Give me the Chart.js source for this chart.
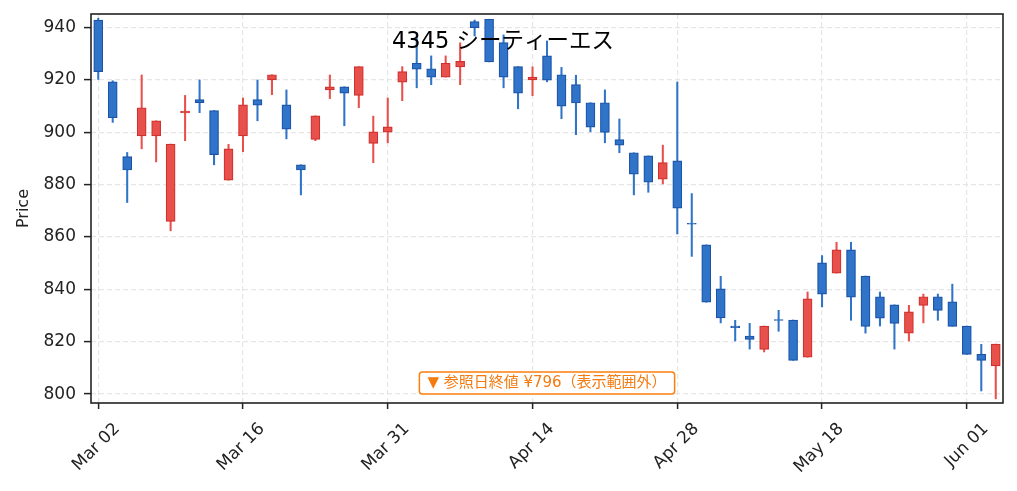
<!DOCTYPE html>
<html>
<head>
<meta charset="utf-8">
<script src="https://cdn.jsdelivr.net/npm/chart.js@4"></script>
<style>
  html, body { margin: 0; padding: 0; background: #fff; }
  #wrap { width: 1017px; height: 491px; }
</style>
</head>
<body>
<div id="wrap"><canvas id="price_chart"></canvas></div>
<script>
const dates = [
    'Mar 02', 'Mar 03', 'Mar 04', 'Mar 05', 'Mar 06', 'Mar 09', 'Mar 10', 'Mar 11', 'Mar 12', 'Mar 13',
    'Mar 16', 'Mar 17', 'Mar 18', 'Mar 19', 'Mar 23', 'Mar 24', 'Mar 25', 'Mar 26', 'Mar 27', 'Mar 30',
    'Mar 31', 'Apr 01', 'Apr 02', 'Apr 03', 'Apr 06', 'Apr 07', 'Apr 08', 'Apr 09', 'Apr 10', 'Apr 13',
    'Apr 14', 'Apr 15', 'Apr 16', 'Apr 17', 'Apr 20', 'Apr 21', 'Apr 22', 'Apr 23', 'Apr 24', 'Apr 27',
    'Apr 28', 'Apr 30', 'May 01', 'May 07', 'May 08', 'May 11', 'May 12', 'May 13', 'May 14', 'May 15',
    'May 18', 'May 19', 'May 20', 'May 21', 'May 22', 'May 25', 'May 26', 'May 27', 'May 28', 'May 29',
    'Jun 01', 'Jun 02', 'Jun 03'
];
const tickLabels = ['Mar 02', 'Mar 16', 'Mar 31', 'Apr 14', 'Apr 28', 'May 18', 'Jun 01'];

const open = [
    942.9, 919.3, 890.7, 898.6, 898.6, 866.0, 907.4, 912.5, 908.3, 881.7,
    898.6, 912.5, 920.0, 910.5, 887.6, 897.3, 916.2, 917.4, 914.1, 895.8,
    900.1, 919.2, 926.4, 924.3, 921.1, 925.0, 942.3, 943.2, 934.3, 925.1,
    920.0, 929.2, 922.0, 918.2, 911.3, 911.3, 897.2, 892.2, 891.0, 882.1,
    889.1, 865.2, 857.0, 840.2, 826.0, 822.2, 817.1, 828.5, 828.3, 814.1,
    850.1, 846.2, 855.1, 845.1, 837.2, 834.1, 823.3, 833.9, 837.2, 835.2,
    826.0, 815.2, 810.8
];
const high = [
    943.6, 919.7, 892.3, 921.9, 904.4, 895.5, 914.1, 920.0, 908.3, 895.4,
    913.1, 920.0, 922.0, 916.2, 887.6, 906.3, 921.9, 917.4, 925.1, 906.2,
    913.1, 925.1, 938.0, 929.2, 929.2, 934.2, 942.9, 943.2, 937.2, 925.1,
    925.0, 934.9, 924.8, 921.8, 911.3, 916.2, 905.1, 892.2, 891.0, 895.1,
    919.2, 876.6, 857.0, 845.0, 828.2, 827.0, 826.0, 832.0, 828.3, 839.0,
    852.9, 858.0, 858.0, 845.1, 839.0, 834.1, 833.9, 838.2, 838.2, 842.0,
    826.0, 819.0, 819.1
];
const low = [
    920.2, 903.8, 873.2, 893.7, 888.7, 862.4, 896.8, 907.5, 887.6, 881.7,
    892.6, 904.4, 914.4, 897.5, 876.1, 896.8, 912.9, 902.5, 909.4, 888.4,
    896.0, 912.1, 917.0, 918.2, 921.1, 918.2, 936.8, 926.9, 917.0, 909.0,
    914.0, 919.3, 905.2, 899.1, 900.2, 896.0, 892.2, 876.1, 877.1, 880.3,
    861.2, 852.6, 835.1, 827.2, 820.3, 817.2, 816.1, 824.0, 812.9, 814.1,
    833.3, 846.2, 828.2, 823.3, 826.0, 817.2, 820.3, 827.2, 828.2, 825.9,
    815.2, 801.2, 798.2
];
const close = [
    923.2, 905.6, 885.6, 909.4, 904.4, 895.5, 908.1, 911.3, 891.5, 893.7,
    910.5, 910.4, 922.0, 901.2, 885.6, 906.3, 917.4, 915.0, 925.1, 900.2,
    902.1, 923.2, 924.1, 921.1, 926.4, 927.1, 940.0, 926.9, 921.1, 915.0,
    921.1, 919.9, 910.0, 911.2, 902.0, 900.0, 895.1, 884.0, 881.0, 888.4,
    871.0, 864.9, 835.1, 829.1, 825.4, 820.9, 826.0, 828.1, 812.9, 836.4,
    838.2, 855.1, 837.0, 825.9, 829.0, 827.0, 831.4, 837.2, 832.0, 825.9,
    815.2, 812.9, 819.1
];

const chartTitle = '4345 シーティーエス';
const refNote = '▼ 参照日終値 ¥796（表示範囲外）';

const upFill = '#e8504c', upEdge = '#d0312f';
const downFill = '#2f74c8', downEdge = '#1c53a6';

const isUp = open.map((o, i) => close[i] >= o);
const bodies = open.map((o, i) => [o, close[i]]);
const wicks = low.map((l, i) => [l, high[i]]);

const font = '"DejaVu Sans", "Noto Sans CJK JP", sans-serif';

const overlay = {
    id: 'overlay',
    afterDatasetsDraw(chart) {
        const {ctx, chartArea: a} = chart;
        ctx.save();
        ctx.strokeStyle = '#222';
        ctx.lineWidth = 1.6;
        ctx.strokeRect(a.left, a.top, a.right - a.left, a.bottom - a.top);

        ctx.fillStyle = '#000';
        ctx.font = '22.5px ' + font;
        ctx.textAlign = 'center';
        ctx.textBaseline = 'alphabetic';
        ctx.fillText(chartTitle, 503, 48);

        ctx.font = '15px ' + font;
        const w = ctx.measureText(refNote).width + 16;
        const cx = (a.left + a.right) / 2;
        ctx.beginPath();
        ctx.roundRect(cx - w / 2, 372, w, 22, 3);
        ctx.fillStyle = '#fff';
        ctx.fill();
        ctx.strokeStyle = '#ff7f0e';
        ctx.lineWidth = 1.5;
        ctx.stroke();
        ctx.fillStyle = '#f57a10';
        ctx.textBaseline = 'middle';
        ctx.fillText(refNote, cx, 383.5);
        ctx.restore();
    }
};

new Chart(document.getElementById('price_chart'), {
    type: 'bar',
    data: {
        labels: dates,
        datasets: [{
            label: 'body',
            data: bodies,
            order: 1,
            grouped: false,
            barThickness: 9,
            borderWidth: 1.2,
            borderSkipped: false,
            backgroundColor: isUp.map(u => u ? upFill : downFill),
            borderColor: isUp.map(u => u ? upEdge : downEdge)
        }, {
            label: 'wick',
            data: wicks,
            order: 2,
            grouped: false,
            barThickness: 1.4,
            borderWidth: 0,
            backgroundColor: isUp.map(u => u ? upFill : downFill)
        }]
    },
    options: {
        responsive: true,
        maintainAspectRatio: false,
        animation: false,
        layout: {padding: {left: 0, top: 14, right: 14, bottom: 0}},
        plugins: {
            legend: {display: false},
            tooltip: {enabled: false}
        },
        scales: {
            x: {
                offset: true,
                afterFit: (s) => { s.height = 88; s.paddingLeft = 0; s.paddingRight = 0; },
                grid: {
                    offset: false,
                    color: '#e6e6e6',
                    lineWidth: 1.2,
                    tickLength: 6,
                    tickColor: '#222',
                    tickWidth: 1.5,
                    tickBorderDash: []
                },
                border: {display: false, dash: [5, 3]},
                ticks: {
                    autoSkip: false,
                    minRotation: 45,
                    maxRotation: 45,
                    labelOffset: 19,
                    padding: 10,
                    color: '#222',
                    font: {family: font, size: 17},
                    callback: function (v) {
                        const d = dates[v];
                        return tickLabels.includes(d) ? d : null;
                    }
                }
            },
            y: {
                min: 796.6,
                max: 945.2,
                afterFit: (s) => { s.width = 91; s.paddingTop = 0; s.paddingBottom = 0; },
                grid: {
                    color: '#e6e6e6',
                    lineWidth: 1.2,
                    tickLength: 7,
                    tickColor: '#222',
                    tickWidth: 1.5,
                    tickBorderDash: []
                },
                border: {display: false, dash: [5, 3]},
                ticks: {
                    stepSize: 20,
                    includeBounds: false,
                    padding: 8,
                    color: '#222',
                    font: {family: font, size: 17}
                },
                title: {
                    display: true,
                    text: 'Price',
                    color: '#222',
                    padding: {top: 14, bottom: 0},
                    font: {family: font, size: 16}
                }
            }
        }
    },
    plugins: [overlay]
});
</script>
</body>
</html>
